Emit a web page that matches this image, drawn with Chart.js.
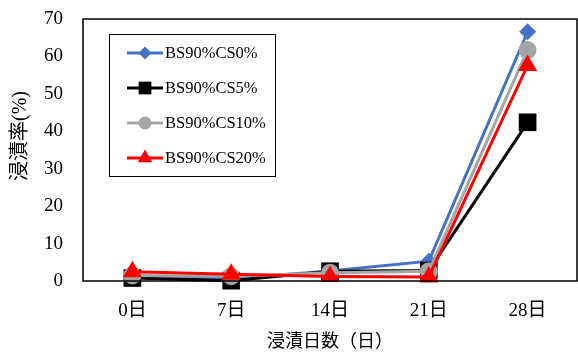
<!DOCTYPE html>
<html>
<head>
<meta charset="utf-8">
<script src="https://cdn.jsdelivr.net/npm/chart.js@4/dist/chart.umd.min.js"></script>
<style>
  html, body { margin: 0; padding: 0; background: #fff; }
  #wrap { width: 578px; height: 354px; }
</style>
</head>
<body>
<div id="wrap"><canvas id="c" width="578" height="354"></canvas></div>
<script>
// Immersion days and immersion rate (%) per mix
const days = ['0日', '7日', '14日', '21日', '28日'];
const seriesNames = ['BS90%CS0%', 'BS90%CS5%', 'BS90%CS10%', 'BS90%CS20%'];
const cs0  = [1.2, 0.6, 2.7, 5.3, 66.6];
const cs5  = [0.8, 0.1, 2.6, 2.8, 42.4];
const cs10 = [1.5, 1.3, 2.2, 2.6, 61.7];
const cs20 = [2.5, 1.8, 1.2, 1.1, 57.6];
const yTicks = [0, 10, 20, 30, 40, 50, 60, 70];
const yTitle = '浸漬率(%)';
const xTitle = '浸漬日数（日）';

const FONT = "'Liberation Serif', 'Noto Sans CJK JP', serif";

const styles = [
  { color: '#4472C4', pointStyle: 'rectRot',  radius: 8.5, legendRadius: 6.5 },
  { color: '#000000', pointStyle: 'rect',     radius: 12.5, legendRadius: 9 },
  { color: '#A5A5A5', pointStyle: 'circle',   radius: 9,   legendRadius: 6.5 },
  { color: '#FF0000', pointStyle: 'triangle', radius: 11,  legendRadius: 8.5 }
];
const values = [cs0, cs5, cs10, cs20];

const datasets = values.map((v, i) => ({
  label: seriesNames[i],
  data: v,
  borderColor: styles[i].color,
  backgroundColor: styles[i].color,
  pointBackgroundColor: styles[i].color,
  pointBorderColor: styles[i].color,
  pointStyle: styles[i].pointStyle,
  pointRadius: styles[i].radius,
  pointBorderWidth: 0,
  borderWidth: 3,
  tension: 0,
  clip: false,
  order: 4 - i
}));

// Frame around the plot area, the vertical axis title and a boxed legend inside the plot
const framePlugin = {
  id: 'frameAndLegend',
  afterDraw(chart) {
    const ctx = chart.ctx;
    const a = chart.chartArea;
    ctx.save();
    ctx.strokeStyle = '#000';
    ctx.lineWidth = 1.5;
    ctx.strokeRect(a.left, a.top, a.right - a.left, a.bottom - a.top);

    // vertical axis title, set slightly above the middle of the axis
    ctx.save();
    ctx.translate(21, a.top + (a.bottom - a.top) / 2 - 14);
    ctx.rotate(-Math.PI / 2);
    ctx.fillStyle = '#000';
    ctx.font = '20px ' + FONT;
    ctx.textAlign = 'center';
    ctx.textBaseline = 'middle';
    ctx.fillText(yTitle, 0, 0);
    ctx.restore();

    const x0 = a.left + 26, y0 = a.top + 15, w = 166, h = 142;
    ctx.fillStyle = '#fff';
    ctx.fillRect(x0, y0, w, h);
    ctx.lineWidth = 1;
    ctx.strokeStyle = '#000';
    ctx.strokeRect(x0 + 0.5, y0 + 0.5, w, h);

    chart.data.datasets.forEach((ds, i) => {
      const y = y0 + 19 + i * 35;
      ctx.strokeStyle = ds.borderColor;
      ctx.lineWidth = 3;
      ctx.beginPath();
      ctx.moveTo(x0 + 18, y);
      ctx.lineTo(x0 + 54, y);
      ctx.stroke();
      ctx.fillStyle = ds.pointBackgroundColor;
      ctx.strokeStyle = ds.pointBackgroundColor;
      ctx.lineWidth = 0.01;
      Chart.helpers.drawPoint(ctx, {
        pointStyle: ds.pointStyle,
        radius: styles[i].legendRadius,
        rotation: 0,
        borderWidth: 0
      }, x0 + 36, y);
      ctx.fillStyle = '#000';
      ctx.font = '16.5px ' + FONT;
      ctx.textBaseline = 'middle';
      ctx.textAlign = 'left';
      ctx.fillText(ds.label, x0 + 56, y + 1);
    });
    ctx.restore();
  }
};

new Chart(document.getElementById('c'), {
  type: 'line',
  data: { labels: days, datasets },
  options: {
    responsive: false,
    animation: false,
    devicePixelRatio: 1,
    layout: { autoPadding: false, padding: { top: 19, right: 1, left: 0, bottom: 0 } },
    plugins: { legend: { display: false }, tooltip: { enabled: false } },
    scales: {
      x: {
        offset: true,
        grid: { display: false, drawTicks: false },
        border: { display: false },
        ticks: { color: '#000', font: { family: FONT, size: 19 }, padding: 19 },
        title: {
          display: true, text: xTitle, color: '#000',
          font: { family: FONT, size: 18 }, padding: { top: 0, bottom: 1 }
        },
        afterFit(scale) {
          scale.height = 73;
          scale.paddingLeft = 0;
          scale.paddingRight = 0;
        }
      },
      y: {
        min: 0, max: 70,
        afterBuildTicks(scale) { scale.ticks = yTicks.map(v => ({ value: v })); },
        grid: { display: false, drawTicks: false },
        border: { display: false },
        ticks: { color: '#000', font: { family: FONT, size: 19 }, padding: 20 },
        afterFit(scale) {
          scale.width = 83;
          scale.paddingTop = 0;
          scale.paddingBottom = 0;
        }
      }
    }
  },
  plugins: [framePlugin]
});
</script>
</body>
</html>
